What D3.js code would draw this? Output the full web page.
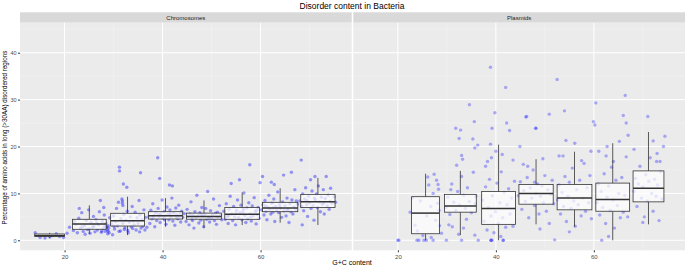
<!DOCTYPE html>
<html>
<head>
<meta charset="utf-8">
<script src="https://cdn.jsdelivr.net/npm/d3@7"></script>
<style>
  body { margin: 0; background: #fff; }
  svg { display: block; font-family: "Liberation Sans", Arial, sans-serif; }
</style>
</head>
<body>
<div id="chart"></div>
<script>
// facets
const panels = ["Chromosomes", "Plasmids"];
const xTicks = [20, 40, 60];
const yTicks = [0, 10, 20, 30, 40];

// Chromosomes: box groups (G+C range, quartiles, whiskers)
const chromLo = [13.9, 21.6, 29.4, 37.1, 44.9, 52.7, 60.4, 68.2];
const chromHi = [20.0, 28.5, 36.3, 44.1, 52.0, 59.8, 67.6, 75.2];
const chromLowW = [0.5, 1.34, 1.1, 2.9, 2.6, 3.26, 3.75, 3.26];
const chromQ1 = [0.8, 2.35, 3.05, 4.54, 4.5, 4.48, 6.1, 7.0];
const chromMed = [1.0, 3.48, 4.18, 5.25, 5.1, 5.54, 6.9, 8.2];
const chromQ3 = [1.35, 4.48, 5.76, 6.1, 5.8, 7.0, 8.1, 9.8];
const chromHighW = [1.6, 7.46, 9.3, 9.0, 8.5, 10.2, 11.1, 13.3];

// Plasmids
const plasLo = [22.8, 29.5, 37.1, 44.7, 52.5, 60.4, 68.0];
const plasHi = [28.5, 36.0, 44.0, 51.7, 59.6, 67.3, 74.3];
const plasLowW = [0, 1.1, 0, 3.4, 2.9, 0, 3.4];
const plasQ1 = [1.4, 6.0, 3.4, 7.7, 6.5, 6.2, 8.2];
const plasMed = [5.8, 7.3, 6.8, 10.0, 9.0, 8.7, 11.1];
const plasQ3 = [9.3, 9.8, 10.4, 11.9, 11.9, 12.2, 14.8];
const plasHighW = [14.2, 14.8, 20.4, 17.3, 18.9, 20.7, 23.1];

// genomes: [G+C content, % disordered]
const chromPoints = [
  [14,1.6],[15,0.6],[16,0.5],[17,0.7],[18.3,1.4],[19,0.8],[19.8,0.6],[17.5,1.0],[20.5,1.5],[21,2.8],
  [21.8,2.1],[22.3,3.4],[22.6,1.6],[22.9,4.7],[23.2,2.6],[23.5,5.9],[23.8,1.9],[24.1,3.1],[24.4,4.2],[24.6,2.3],
  [24.9,6.5],[25.2,1.5],[25.4,3.8],[25.7,2.8],[25.9,5.1],[26.2,1.8],[26.4,4.4],[26.7,2.2],[26.9,3.3],[27.1,6.1],
  [27.3,8.5],[27.5,1.7],[27.7,4.0],[27.9,2.5],[28.1,5.4],[28.3,1.9],[28.4,3.6],[28.6,2.9],[28.8,1.4],[29.0,2.6],
  [29.2,4.8],[28.0,7.0],[23.0,6.8],[26.0,3.0],[24.2,1.3],[28.7,2.2],[28.9,3.1],[28.5,2.7],
  [22.0,4.0],[23.6,2.9],[25.0,2.4],[26.6,3.7],[27.6,2.0],[28.2,3.0],[28.9,2.0],[29.1,1.6],
  [29.6,3.5],[29.8,1.2],[30.0,5.2],[30.2,2.4],[30.4,4.0],[30.6,6.8],[30.8,3.1],[31.0,8.1],[31.2,15.6],[31.2,14.8],
  [31.4,2.0],[31.5,4.6],[31.7,8.8],[31.8,7.9],[31.9,3.6],[32.0,12.0],[32.1,5.5],[32.3,2.7],[32.5,4.3],[32.7,11.3],
  [32.8,6.2],[33.0,1.6],[33.2,3.9],[33.4,5.0],[33.6,2.9],[33.8,7.2],[34.0,4.1],[34.2,3.3],[34.4,6.0],[34.6,2.2],
  [34.8,4.8],[35.0,3.6],[35.2,8.5],[35.5,14.4],[35.4,5.4],[35.6,2.6],[35.8,4.4],[36.0,3.0],[36.2,6.5],[36.5,4.9],
  [36.8,2.8],[31.8,8.4],[31.9,7.4],[32.2,2.3],[30.1,3.0],[31.1,1.9],[32.9,2.1],[33.9,2.5],[35.3,1.8],[36.4,2.2],
  [37.2,5.0],[37.4,3.6],[37.6,6.4],[37.8,4.6],[38.0,7.8],[38.2,5.3],[38.4,2.9],[38.6,5.9],[38.8,4.2],[39.0,17.6],
  [39.4,13.2],[39.1,6.8],[39.3,5.1],[39.5,3.8],[39.7,5.6],[39.9,8.6],[40.1,4.7],[40.3,6.1],[40.5,5.2],[40.7,3.4],
  [40.9,7.1],[41.1,5.5],[41.4,11.8],[41.3,4.4],[41.5,6.5],[41.7,5.0],[41.9,9.0],[42.0,11.6],[42.1,4.1],[42.3,5.8],
  [42.5,3.2],[42.7,6.9],[42.9,5.4],[43.1,4.6],[43.3,7.5],[43.5,5.1],[43.7,3.9],[43.9,6.2],[44.1,4.9],[44.4,5.7],
  [38.1,4.8],[39.2,5.5],[40.4,4.4],[41.6,5.7],[42.8,4.9],[43.6,5.6],
  [44.8,4.0],[45.0,6.6],[45.2,5.0],[45.4,3.3],[45.6,5.6],[45.8,8.2],[46.0,4.6],[46.2,5.3],[46.4,2.6],[46.6,6.1],
  [46.8,4.8],[47.0,9.6],[47.2,5.2],[47.4,3.7],[47.6,5.9],[47.8,4.3],[48.0,7.0],[48.2,5.1],[48.4,2.9],[48.6,5.5],
  [48.8,6.8],[49.0,4.5],[49.2,10.4],[49.4,5.0],[49.6,3.9],[49.8,6.3],[50.0,4.7],[50.2,5.4],[50.4,8.8],[50.6,4.2],
  [50.8,5.8],[51.0,3.4],[51.2,6.0],[51.4,4.9],[51.6,7.4],[51.8,5.3],[52.1,4.4],[46.1,4.2],[47.9,5.5],[49.5,4.8],[51.1,5.0],
  [52.5,6.2],[52.8,4.5],[53.0,7.8],[53.2,5.1],[53.4,3.6],[53.6,6.6],[53.8,9.4],[54.0,12.1],[54.1,5.6],[54.3,4.2],
  [54.5,7.2],[54.7,5.0],[54.9,3.3],[55.1,6.4],[55.3,8.6],[55.5,4.8],[55.7,12.9],[55.8,5.9],[56.0,7.5],[56.2,4.4],
  [56.4,6.0],[56.6,10.1],[56.8,5.3],[57.0,3.8],[57.2,6.9],[57.4,4.6],[57.6,8.0],[57.8,16.1],[57.9,5.7],[58.1,4.1],
  [58.3,7.3],[58.5,5.2],[58.7,9.1],[58.9,6.1],[59.1,3.5],[59.3,5.5],[59.5,7.0],[59.9,12.3],[59.7,4.7],
  [53.5,5.2],[55.0,5.8],[56.5,6.6],[58.0,5.0],[59.2,6.4],
  [60.2,6.5],[60.4,13.6],[60.5,7.6],[60.7,5.4],[60.9,8.5],[61.1,6.2],[61.3,4.4],[61.5,7.0],[61.7,9.6],[61.9,6.6],
  [62.2,12.4],[62.1,5.6],[62.3,7.9],[62.5,6.0],[62.8,11.9],[62.7,8.8],[62.9,4.0],[63.1,7.2],[63.3,6.4],[63.5,10.3],
  [63.7,5.9],[63.9,7.6],[64.1,6.8],[64.3,4.9],[64.5,8.2],[64.7,13.9],[64.8,6.3],[65.0,7.4],[65.2,5.2],[65.4,9.0],
  [65.6,6.7],[65.8,3.8],[66.0,7.8],[66.3,14.5],[66.2,6.1],[66.4,8.6],[66.6,5.6],[66.8,7.1],[67.0,10.8],[67.2,6.5],
  [67.5,7.7],[61.0,7.3],[62.6,6.9],[64.0,7.0],[65.5,6.4],[67.3,8.4],
  [68.0,8.4],[68.3,17.1],[68.5,3.3],[68.4,7.2],[68.6,9.9],[68.8,6.3],[69.0,8.8],[69.2,11.2],[69.4,7.6],[69.6,5.1],
  [69.8,9.4],[70.0,8.0],[70.2,12.9],[70.3,6.8],[70.5,10.5],[70.7,7.4],[70.9,4.3],[71.1,13.6],[71.2,8.6],[71.4,9.9],
  [71.6,7.0],[71.8,11.6],[72.0,8.2],[72.2,6.1],[72.4,9.2],[72.6,7.7],[72.8,10.8],[73.0,5.6],[73.4,13.6],[73.2,8.9],
  [73.6,7.3],[73.8,9.6],[74.0,6.6],[74.3,11.1],[74.2,8.3],[74.6,7.9],[75.0,9.3],[75.3,8.1],[69.5,8.5],[71.0,9.0],[72.9,8.0]
];

const plasPoints = [
  [20.0,0],[20.2,0],[23.9,0],[24.3,0],[25.3,0],[25.8,0],[27.2,0],[22.5,6.0],[26.3,11.8],[28.2,11.9],
  [27.2,10.0],[28.3,10.9],[28.1,7.9],[26.7,7.2],[27.7,4.3],[28.5,3.1],[28.9,1.5],[23.5,3.2],[24.6,8.4],[25.1,1.0],
  [25.9,5.2],[26.1,13.5],[27.4,14.1],[23.0,9.0],[24.0,2.0],[26.8,0.6],[28.4,6.4],[27.9,12.8],
  [29.9,0],[33.0,0],[36.4,0],[30.4,3.3],[31.1,2.9],[32.4,1.3],[33.4,2.6],[35.7,1.1],[31.8,23.9],[32.8,23.5],
  [32.5,21.7],[35.3,21.6],[36.3,20.3],[35.7,19.7],[33.0,18.1],[33.2,17.3],[34.6,28.9],[35.6,25.3],[29.8,7.0],[30.2,9.2],
  [30.6,5.5],[31.0,12.0],[31.4,8.1],[31.8,6.4],[32.2,10.4],[32.6,7.5],[33.0,13.6],[33.4,9.6],[33.8,6.8],[34.2,11.2],
  [34.6,8.3],[35.0,5.9],[35.4,14.5],[35.8,7.8],[34.0,4.5],[32.0,16.0],[30.8,10.8],[35.9,9.4],
  [39.0,0],[39.0,0],[39.2,0],[41.5,0],[41.5,0],[38.9,36.9],[42.0,32.6],[39.8,27.2],[42.2,25.0],[39.2,23.9],
  [42.8,23.4],[38.9,20.5],[39.1,17.6],[41.3,18.3],[43.5,17.1],[37.9,15.8],[38.3,16.8],[37.3,8.6],[37.6,4.1],[37.9,11.4],
  [38.2,2.2],[38.5,7.0],[38.7,13.0],[39.0,5.2],[39.3,9.5],[39.6,1.6],[39.9,6.1],[40.2,12.2],[40.5,3.6],[40.8,8.0],
  [41.1,14.6],[41.4,4.8],[41.7,10.2],[42.0,2.8],[42.3,7.6],[42.6,11.0],[42.9,5.6],[43.2,9.0],[43.5,3.0],[43.8,12.6],
  [40.0,19.0],[41.0,0.8],
  [46.3,26.4],[48.2,23.9],[44.9,20.0],[45.6,16.2],[46.1,26.3],[50.9,26.9],[48.1,23.9],[49.6,17.4],[44.6,9.5],[45.0,12.5],
  [45.3,6.6],[45.7,10.6],[46.0,8.3],[46.4,13.4],[46.7,4.8],[47.0,11.2],[47.3,9.0],[47.6,15.0],[47.9,12.4],[48.2,10.0],
  [48.5,12.0],[48.8,5.6],[49.1,9.4],[49.4,11.6],[49.7,8.0],[50.0,13.8],[50.3,6.2],[50.6,10.8],[50.9,3.6],[51.2,9.8],
  [51.5,12.8],[51.8,7.8],[46.5,15.8],[49.0,2.4],[47.9,7.4],
  [52.5,34.3],[54.0,27.6],[54.3,21.3],[56.1,20.7],[52.9,18.0],[53.7,18.0],[59.4,19.0],[52.0,0.1],[52.6,8.6],[52.9,11.8],
  [53.2,5.6],[53.5,10.2],[53.8,7.2],[54.1,13.6],[54.4,4.0],[54.7,9.4],[55.0,12.4],[55.3,6.8],[55.6,15.4],[55.9,8.4],
  [56.2,3.0],[56.5,10.8],[56.8,7.6],[57.1,12.8],[57.4,5.2],[57.7,9.0],[58.0,16.4],[58.3,6.2],[58.6,11.2],[58.9,8.0],
  [59.2,13.8],[59.5,4.6],[55.0,1.8],[57.5,17.0],
  [60.4,29.3],[66.4,30.9],[59.9,25.3],[60.2,24.6],[66.0,26.6],[66.6,25.0],[67.0,22.4],[65.2,21.1],[62.7,20.0],[62.5,18.0],
  [64.0,16.8],[61.6,0],[60.6,8.0],[60.9,12.0],[61.2,5.4],[61.5,10.4],[61.8,7.0],[62.1,14.2],[62.4,3.6],[62.7,9.2],
  [63.0,11.6],[63.3,6.4],[63.6,15.6],[63.9,8.6],[64.2,2.6],[64.5,12.8],[64.8,7.4],[65.1,10.0],[65.4,4.8],[65.7,13.4],
  [66.0,6.0],[66.3,9.6],[66.6,17.8],[66.9,5.0],[63.0,0.8],[61.0,19.0],
  [71.0,26.4],[74.5,22.2],[72.1,21.2],[72.9,18.5],[72.8,16.8],[73.5,16.8],[68.2,19.4],[68.2,10.4],[68.5,13.2],[68.8,7.2],
  [69.1,12.0],[69.4,15.8],[69.7,9.0],[70.0,11.4],[70.3,5.0],[70.6,14.0],[70.9,8.4],[71.2,12.6],[71.5,17.6],[71.8,10.0],
  [72.1,6.2],[72.4,13.0],[72.7,9.4],[73.0,11.8],[73.3,4.2],[73.6,14.6],[73.9,8.8],[74.2,20.0],[70.0,3.8]
];

const width = 685, height = 268;
const layout = {
  panelLeft: [20, 353.3],
  panelWidth: 331.7,
  stripTop: 12.3,
  panelTop: 22.7,
  panelBottom: 250.3
};

const svg = d3.select("#chart").append("svg")
  .attr("width", width)
  .attr("height", height);

const y = d3.scaleLinear()
  .domain([-2.13, 46.4])
  .range([layout.panelBottom, layout.panelTop]);

const facetData = [
  { points: chromPoints, alpha: 0.38, lo: chromLo, hi: chromHi, lw: chromLowW, q1: chromQ1, med: chromMed, q3: chromQ3, hw: chromHighW },
  { points: plasPoints, alpha: 0.3, lo: plasLo, hi: plasHi, lw: plasLowW, q1: plasQ1, med: plasMed, q3: plasQ3, hw: plasHighW }
];

panels.forEach((name, p) => {
  const x0 = layout.panelLeft[p];
  const x = d3.scaleLinear()
    .domain([10.9, 78.6])
    .range([x0, x0 + layout.panelWidth]);
  const fd = facetData[p];
  const g = svg.append("g");

  // strip
  g.append("rect")
    .attr("x", x0).attr("y", layout.stripTop)
    .attr("width", layout.panelWidth)
    .attr("height", layout.panelTop - layout.stripTop)
    .attr("fill", "#d9d9d9");
  g.append("text")
    .attr("x", x0 + layout.panelWidth / 2)
    .attr("y", (layout.stripTop + layout.panelTop) / 2)
    .attr("dy", "0.35em")
    .attr("text-anchor", "middle")
    .style("font-size", "6px")
    .attr("fill", "#1a1a1a")
    .text(name);

  // panel bg
  g.append("rect")
    .attr("x", x0).attr("y", layout.panelTop)
    .attr("width", layout.panelWidth)
    .attr("height", layout.panelBottom - layout.panelTop)
    .attr("fill", "#ebebeb");

  // minor grid
  const yMinor = [5, 15, 25, 35, 45];
  const xMinor = [10, 30, 50, 70];
  g.selectAll(".ymin").data(yMinor).enter().append("line")
    .attr("x1", x0).attr("x2", x0 + layout.panelWidth)
    .attr("y1", d => y(d)).attr("y2", d => y(d))
    .attr("stroke", "#f5f5f5").attr("stroke-width", 0.5);
  g.selectAll(".xmin").data(xMinor.filter(d => x(d) > x0)).enter().append("line")
    .attr("y1", layout.panelTop).attr("y2", layout.panelBottom)
    .attr("x1", d => x(d)).attr("x2", d => x(d))
    .attr("stroke", "#f5f5f5").attr("stroke-width", 0.5);

  // major grid
  g.selectAll(".ymaj").data(yTicks).enter().append("line")
    .attr("x1", x0).attr("x2", x0 + layout.panelWidth)
    .attr("y1", d => y(d)).attr("y2", d => y(d))
    .attr("stroke", "#fff").attr("stroke-width", 1);
  g.selectAll(".xmaj").data(xTicks).enter().append("line")
    .attr("y1", layout.panelTop).attr("y2", layout.panelBottom)
    .attr("x1", d => x(d)).attr("x2", d => x(d))
    .attr("stroke", "#fff").attr("stroke-width", 1);

  // jittered genomes
  g.append("g").selectAll("circle")
    .data(fd.points)
    .enter().append("circle")
    .attr("cx", d => x(d[0]))
    .attr("cy", d => y(d[1]))
    .attr("r", 1.7)
    .attr("fill", "#0000ff")
    .attr("fill-opacity", fd.alpha);

  // boxplots
  const boxes = fd.lo.map((lo, i) => ({
    lo, hi: fd.hi[i], lw: fd.lw[i], q1: fd.q1[i], med: fd.med[i], q3: fd.q3[i], hw: fd.hw[i]
  }));
  const bg = g.append("g").selectAll("g").data(boxes).enter().append("g");
  bg.append("line")
    .attr("x1", d => x((d.lo + d.hi) / 2)).attr("x2", d => x((d.lo + d.hi) / 2))
    .attr("y1", d => y(d.hw)).attr("y2", d => y(d.q3))
    .attr("stroke", "#333").attr("stroke-width", 0.8);
  bg.append("line")
    .attr("x1", d => x((d.lo + d.hi) / 2)).attr("x2", d => x((d.lo + d.hi) / 2))
    .attr("y1", d => y(d.q1)).attr("y2", d => y(d.lw))
    .attr("stroke", "#333").attr("stroke-width", 0.8);
  bg.append("rect")
    .attr("x", d => x(d.lo))
    .attr("width", d => x(d.hi) - x(d.lo))
    .attr("y", d => y(d.q3))
    .attr("height", d => y(d.q1) - y(d.q3))
    .attr("fill", "#fff").attr("fill-opacity", 0.7)
    .attr("stroke", "#333").attr("stroke-width", 0.8);
  bg.append("line")
    .attr("x1", d => x(d.lo)).attr("x2", d => x(d.hi))
    .attr("y1", d => y(d.med)).attr("y2", d => y(d.med))
    .attr("stroke", "#333").attr("stroke-width", 1.5);

  // x axis
  const xAxis = g.append("g")
    .attr("transform", `translate(0,${layout.panelBottom})`)
    .call(d3.axisBottom(x).tickValues(xTicks).tickSize(2).tickPadding(2));
  xAxis.select(".domain").remove();
  xAxis.selectAll("line").attr("stroke", "#333");
  xAxis.selectAll("text").attr("fill", "#4d4d4d").style("font-size", "6px")
    .style("font-family", "Liberation Sans, Arial, sans-serif");

  if (p === 0) {
    const yAxis = g.append("g")
      .attr("transform", `translate(${x0},0)`)
      .call(d3.axisLeft(y).tickValues(yTicks).tickSize(2).tickPadding(1.5));
    yAxis.select(".domain").remove();
    yAxis.selectAll("line").attr("stroke", "#333");
    yAxis.selectAll("text").attr("fill", "#4d4d4d").style("font-size", "5.5px")
      .style("font-family", "Liberation Sans, Arial, sans-serif");
  }
});

// titles
svg.append("text")
  .attr("x", 352).attr("y", 9)
  .attr("text-anchor", "middle")
  .style("font-size", "8.5px")
  .text("Disorder content in Bacteria");

svg.append("text")
  .attr("x", 352).attr("y", 265)
  .attr("text-anchor", "middle")
  .style("font-size", "7px")
  .text("G+C content");

svg.append("text")
  .attr("transform", `translate(7,${(layout.panelTop + layout.panelBottom) / 2 + 1}) rotate(-90)`)
  .attr("text-anchor", "middle")
  .style("font-size", "6.3px")
  .text("Percentage of amino acids in long (>30AA) disordered regions");
</script>
</body>
</html>
